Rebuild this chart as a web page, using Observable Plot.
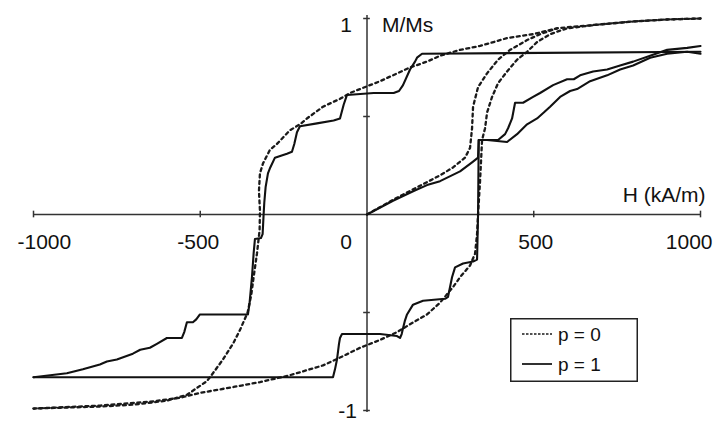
<!DOCTYPE html>
<html>
<head>
<meta charset="utf-8">
<script src="https://cdn.jsdelivr.net/npm/d3@7"></script>
<script src="https://cdn.jsdelivr.net/npm/@observablehq/plot@0.6"></script>
<style>
  html, body { margin: 0; padding: 0; background: #fff; }
  #chart { position: relative; width: 715px; height: 421px; }
  #legend { position: absolute; left: 510px; top: 318px; }
</style>
</head>
<body>
<div id="chart"></div>
<script>
// ---- Data (H in kA/m, M/Ms) ----
const p0Descending = [
  [1000,1.0],[900,0.995],[800,0.985],[700,0.97],[600,0.955],[570,0.95],[498,0.92],[420,0.90],
  [339,0.86],[279,0.84],[219,0.81],[180,0.78],[129,0.75],[39,0.68],[-21,0.64],[-51,0.62],
  [-81,0.59],[-132,0.55],[-180,0.49],[-201,0.46],[-231,0.43],[-270,0.36],[-291,0.33],[-312,0.26],
  [-321,0.21],[-324,0.12],[-321,0.02],[-322,-0.08],[-330,-0.2],[-340,-0.32],[-347,-0.41],[-358,-0.5],
  [-381,-0.59],[-402,-0.66],[-432,-0.74],[-462,-0.81],[-480,-0.85],[-540,-0.92],[-600,-0.95],
  [-700,-0.97],[-800,-0.98],[-900,-0.985],[-1000,-0.99]
];
const p0Ascending = [
  [-1000,-0.99],[-800,-0.975],[-650,-0.955],[-560,-0.935],[-500,-0.91],[-400,-0.88],[-321,-0.855],
  [-282,-0.84],[-231,-0.82],[-132,-0.77],[-81,-0.73],[-21,-0.68],[39,-0.64],[90,-0.60],[129,-0.56],
  [180,-0.51],[219,-0.45],[258,-0.37],[279,-0.32],[309,-0.26],[324,-0.2],[330,-0.1],[333,0.0],
  [339,0.17],[345,0.38],[354,0.44],[360,0.52],[375,0.60],[393,0.67],[420,0.73],[450,0.79],
  [480,0.83],[510,0.88],[549,0.92],[600,0.95],[700,0.97],[800,0.985],[900,0.995],[1000,1.0]
];
const p0Virgin = [
  [0,0],[78,0.075],[180,0.165],[219,0.2],[258,0.24],[294,0.29],[309,0.34],[315,0.44],[318,0.55],
  [333,0.65],[360,0.72],[393,0.79],[429,0.84],[480,0.89],[519,0.92],[570,0.95]
];
const p1Descending = [
  [1000,0.83],[165,0.82],[150,0.80],[144,0.78],[129,0.74],[108,0.66],[96,0.63],[80,0.62],[20,0.62],
  [-60,0.61],[-70,0.56],[-81,0.49],[-100,0.48],[-150,0.465],[-201,0.45],[-210,0.42],[-218,0.36],
  [-225,0.32],[-240,0.31],[-276,0.29],[-290,0.24],[-297,0.21],[-304,0.14],[-308,0.06],[-310,0.0],
  [-313,-0.10],[-318,-0.12],[-336,-0.125],[-340,-0.2],[-345,-0.32],[-352,-0.45],[-357,-0.51],
  [-381,-0.51],[-501,-0.51],[-512,-0.535],[-522,-0.55],[-540,-0.55],[-548,-0.6],[-555,-0.63],
  [-600,-0.63],[-630,-0.66],[-651,-0.68],[-680,-0.69],[-702,-0.71],[-750,-0.74],[-780,-0.75],
  [-801,-0.765],[-852,-0.79],[-900,-0.81],[-950,-0.82],[-1000,-0.83]
];
const p1Ascending = [
  [-1000,-0.83],[-102,-0.83],[-96,-0.79],[-90,-0.74],[-84,-0.66],[-81,-0.63],[-75,-0.61],[39,-0.61],
  [90,-0.62],[99,-0.63],[104,-0.61],[108,-0.58],[114,-0.54],[120,-0.51],[138,-0.46],[168,-0.44],
  [234,-0.43],[243,-0.42],[249,-0.37],[255,-0.32],[264,-0.27],[288,-0.25],[318,-0.24],[330,-0.23],
  [333,0.0],[335,0.38],[350,0.38],[393,0.38],[414,0.41],[423,0.44],[435,0.49],[444,0.57],[468,0.57],
  [498,0.60],[519,0.62],[558,0.66],[600,0.69],[620,0.69],[639,0.71],[678,0.73],[720,0.74],
  [759,0.76],[798,0.78],[849,0.81],[900,0.84],[960,0.85],[1000,0.86]
];
const p1Virgin = [
  [0,0],[78,0.07],[140,0.12],[180,0.15],[219,0.17],[279,0.22],[318,0.27],[333,0.29],[335,0.38],
  [360,0.38],[420,0.37],[450,0.41],[480,0.46],[510,0.49],[530,0.52],[549,0.55],[579,0.60],
  [609,0.63],[630,0.64],[669,0.68],[720,0.71],[759,0.74],[798,0.76],[849,0.80],[900,0.82],
  [960,0.83],[1000,0.82]
];

const xTickValues = [-1000, -500, 0, 500, 1000];
const xTickLabels = ["-1000", "-500", "0", "500", "1000"];
const yTickValues = [-1, -0.5, 0.5, 1];
const yTickLabels = [{v: 1, t: "1"}, {v: -1, t: "-1"}];
const seriesNames = ["p = 0", "p = 1"];

// ---- Build table ----
const branches = [
  {name: "p0-desc", p: seriesNames[0], pts: p0Descending},
  {name: "p0-asc",  p: seriesNames[0], pts: p0Ascending},
  {name: "p0-virgin", p: seriesNames[0], pts: p0Virgin},
  {name: "p1-desc", p: seriesNames[1], pts: p1Descending},
  {name: "p1-asc",  p: seriesNames[1], pts: p1Ascending},
  {name: "p1-virgin", p: seriesNames[1], pts: p1Virgin}
];
const rows = branches.flatMap(b => b.pts.map(([H, M]) => ({H, M, p: b.p, branch: b.name})));

const font = "'Liberation Sans', Arial, Helvetica, sans-serif";
const axisColor = "#333";

const xLabelStyle = [
  {textAnchor: "start", dx: -16},
  {textAnchor: "middle", dx: -2},
  {textAnchor: "middle", dx: -21},
  {textAnchor: "middle", dx: 2},
  {textAnchor: "end", dx: 12}
];

const xLabelMarks = xTickValues.map((v, i) =>
  Plot.text([{v, t: xTickLabels[i]}], {
    x: "v", y: () => 0, text: "t", dy: 28, fontSize: 21, fill: "#111", ...xLabelStyle[i]
  })
);

const chart = Plot.plot({
  width: 715,
  height: 421,
  marginLeft: 33,
  marginRight: 15,
  marginTop: 18,
  marginBottom: 11,
  x: {domain: [-1000, 1000], axis: null},
  y: {domain: [-1, 1], axis: null},
  style: {fontFamily: font, background: "#fff", overflow: "visible"},
  marks: [
    // axes through origin
    Plot.ruleY([0], {x1: -1000, x2: 1000, stroke: axisColor, strokeWidth: 1.5}),
    Plot.ruleX([0], {y1: -1.01, y2: 1.015, stroke: axisColor, strokeWidth: 1.5}),
    Plot.ruleX(xTickValues.filter(v => v !== 0), {y1: -0.017, y2: 0.017, stroke: axisColor, strokeWidth: 1.5}),
    Plot.ruleY(yTickValues, {x1: -10, x2: 10, stroke: axisColor, strokeWidth: 1.5}),
    // curves
    Plot.line(rows.filter(d => d.p === seriesNames[0]), {
      x: "H", y: "M", z: "branch", stroke: "#1a1a1a", strokeWidth: 2.3,
      strokeDasharray: "3,3.5", curve: "linear"
    }),
    Plot.line(rows.filter(d => d.p === seriesNames[1]), {
      x: "H", y: "M", z: "branch", stroke: "#111", strokeWidth: 2.1, curve: "linear",
      strokeLinejoin: "round"
    }),
    // tick labels
    ...xLabelMarks,
    Plot.text(yTickLabels.filter(d => d.v === 1), {x: () => 0, y: "v", text: "t", textAnchor: "end", dx: -15, dy: 6.5, fontSize: 21, fill: "#111"}),
    Plot.text(yTickLabels.filter(d => d.v === -1), {x: () => 0, y: "v", text: "t", textAnchor: "end", dx: -10, dy: 1, fontSize: 21, fill: "#111"}),
    // axis titles
    Plot.text(["M/Ms"], {x: () => 0, y: () => 1, text: d => d, textAnchor: "start", dx: 15, dy: 7, fontSize: 21, fill: "#111"}),
    Plot.text(["H (kA/m)"], {x: () => 1000, y: () => 0, text: d => d, textAnchor: "end", dx: 5, dy: -19, fontSize: 21, fill: "#111"})
  ]
});

const container = document.getElementById("chart");
container.appendChild(chart);

// ---- Legend (SVG overlay, inside plot area bottom-right) ----
const ns = "http://www.w3.org/2000/svg";
const leg = document.createElementNS(ns, "svg");
leg.setAttribute("id", "legend");
leg.setAttribute("width", 128);
leg.setAttribute("height", 64);
const box = document.createElementNS(ns, "rect");
box.setAttribute("x", 0.75); box.setAttribute("y", 0.75);
box.setAttribute("width", 126.5); box.setAttribute("height", 62.5);
box.setAttribute("fill", "#fff"); box.setAttribute("stroke", "#222"); box.setAttribute("stroke-width", 1.5);
leg.appendChild(box);
seriesNames.forEach((name, i) => {
  const yy = 16 + i * 30;
  const ln = document.createElementNS(ns, "line");
  ln.setAttribute("x1", 12); ln.setAttribute("x2", 42);
  ln.setAttribute("y1", yy); ln.setAttribute("y2", yy);
  ln.setAttribute("stroke", "#1a1a1a");
  ln.setAttribute("stroke-width", i === 0 ? 1.6 : 1.8);
  if (i === 0) ln.setAttribute("stroke-dasharray", "2.5,1.5");
  leg.appendChild(ln);
  const tx = document.createElementNS(ns, "text");
  tx.setAttribute("x", 48); tx.setAttribute("y", yy);
  tx.setAttribute("dy", "0.35em");
  tx.setAttribute("font-family", font);
  tx.setAttribute("font-size", 19);
  tx.setAttribute("fill", "#111");
  tx.textContent = name;
  leg.appendChild(tx);
});
container.appendChild(leg);
</script>
</body>
</html>
